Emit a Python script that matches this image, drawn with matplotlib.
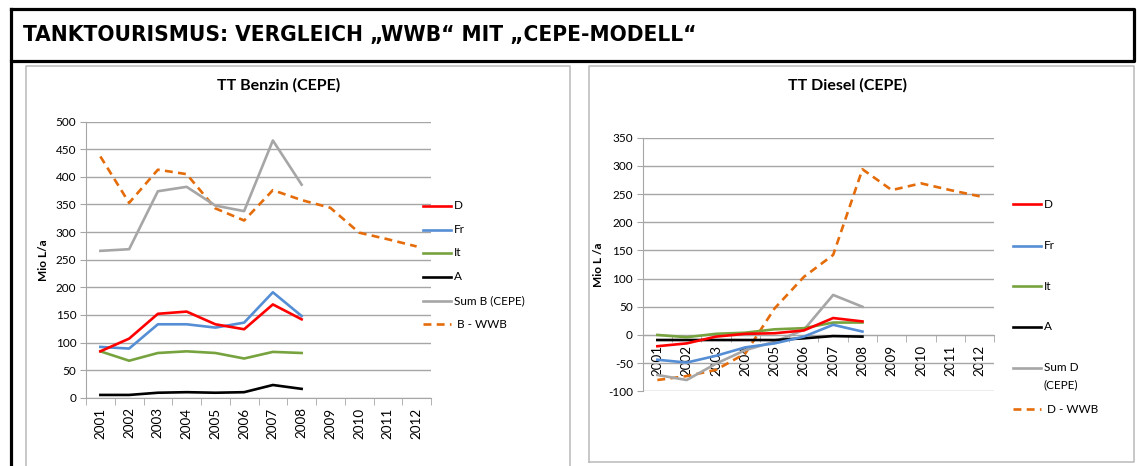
import matplotlib
matplotlib.use("Agg")
import matplotlib.pyplot as plt
from matplotlib.lines import Line2D
import numpy as np

W, H = 1137, 466

years = ["2001", "2002", "2003", "2004", "2005", "2006", "2007", "2008",
         "2009", "2010", "2011", "2012"]

# Benzin (Mio L/a)
benzin_D = [84, 107, 152, 156, 133, 124, 169, 142]
benzin_Fr = [92, 89, 133, 133, 127, 136, 191, 148]
benzin_It = [84, 67, 81, 84, 81, 71, 83, 81]
benzin_A = [5, 5, 9, 10, 9, 10, 23, 16]
benzin_Sum = [266, 269, 374, 382, 348, 338, 466, 386]
benzin_WWB = [437, 353, 413, 405, 343, 321, 376, 358, 344, 299, 287, 274]

# Diesel (Mio L/a)
diesel_D = [-20, -15, -3, 2, 3, 8, 30, 24]
diesel_Fr = [-44, -49, -37, -22, -15, -3, 18, 6]
diesel_It = [0, -4, 2, 4, 10, 12, 22, 22]
diesel_A = [-9, -9, -9, -9, -9, -6, -2, -3]
diesel_Sum = [-71, -80, -51, -27, -12, 9, 71, 50]
diesel_WWB = [-80, -73, -62, -33, 47, 103, 142, 294, 257, 269, 257, 246]

benzin_labels = ["D", "Fr", "It", "A", "Sum B (CEPE)", " B - WWB"]
diesel_labels = ["D", "Fr", "It", "A", "Sum D\n(CEPE)", " D - WWB"]

colors = ["#ff0000", "#558ed5", "#77a33f", "#000000", "#a6a6a6", "#e46c0a"]
FONT = "Lato"
plt.rcParams['font.family'] = [FONT, 'DejaVu Sans']

fig = plt.figure(figsize=(W / 100, H / 100), dpi=100)


def fx(x):
    return x / W


def fy(y):
    return 1 - y / H


def fline(xs, ys, color, lw):
    fig.add_artist(Line2D([fx(v) for v in xs], [fy(v) for v in ys],
                          color=color, lw=lw, transform=fig.transFigure,
                          solid_capstyle='projecting'))


# frames
fline([11, 1134, 1134, 11, 11], [9, 9, 61, 61, 9], "black", 2.3)
fline([11, 11], [61, 470], "black", 2.3)
fline([26, 26, 570, 570], [470, 66, 66, 470], "#bfbfbf", 1.2)
fline([589, 589, 1134, 1134, 589], [462, 66, 66, 462, 462], "#bfbfbf", 1.2)

fig.text(fx(23), fy(35), "TANKTOURISMUS: VERGLEICH \u201eWWB\u201c MIT \u201eCEPE-MODELL\u201c",
         ha="left", va="center", fontsize=16.2, fontweight="bold",
         family=["DejaVu Sans"], fontstretch="condensed")


def make_chart(axbox, ylim, yticks, series, labels, title, title_xy, ylabel,
               ylabel_xy, legend_x, legend_ys, zero_axis):
    l, t, r, b = axbox
    ax = fig.add_axes([fx(l), fy(b), fx(r) - fx(l), fy(t) - fy(b)])
    x = np.arange(len(years))
    ax.set_xlim(-0.5, len(years) - 0.5)
    ax.set_ylim(*ylim)
    ax.set_yticks(yticks)
    ax.set_yticklabels([str(v) for v in yticks], fontsize=8.5)
    ax.yaxis.grid(True, color="#a6a6a6", lw=1.0)
    ax.set_axisbelow(True)
    for s in ["top", "right"]:
        ax.spines[s].set_visible(False)
    ax.spines["left"].set_color("#a6a6a6")
    ax.spines["bottom"].set_color("#a6a6a6")
    if zero_axis:
        ax.spines["bottom"].set_position(("data", 0))
    ax.set_xticks(x)
    ax.set_xticklabels(years, rotation=90, fontsize=9.7)
    ax.set_xticks(np.arange(-0.5, len(years)), minor=True)
    ax.tick_params(axis="x", which="major", length=0, pad=7)
    ax.tick_params(axis="x", which="minor", length=5, color="#a6a6a6")
    ax.tick_params(axis="y", length=4, color="#a6a6a6", pad=3)
    for i, (vals, lab) in enumerate(zip(series, labels)):
        ls = "--" if i == 5 else "-"
        ax.plot(x[:len(vals)], vals, color=colors[i], lw=1.9, ls=ls,
                dashes=(3, 2) if i == 5 else (None, None),
                zorder=3 + (6 - i) * 0.1)
        ly = legend_ys[i]
        lxs = [legend_x, legend_x + 28]
        if i == 5:
            fig.add_artist(Line2D([fx(v) for v in lxs], [fy(ly)] * 2, color=colors[i],
                                  lw=1.9, ls="--", dashes=(3, 2), transform=fig.transFigure))
        else:
            fig.add_artist(Line2D([fx(v) for v in lxs], [fy(ly)] * 2, color=colors[i],
                                  lw=1.9, transform=fig.transFigure))
        for k, ln in enumerate(lab.split("\n")):
            fig.text(fx(legend_x + 31), fy(ly + k * 17), ln, ha="left",
                     va="center", fontsize=8.5)
    fig.text(fx(title_xy[0]), fy(title_xy[1]), title, ha="center", va="center",
             fontsize=11.5, fontweight="bold")
    fig.text(fx(ylabel_xy[0]), fy(ylabel_xy[1]), ylabel, ha="center", va="center",
             fontsize=8.5, fontweight="bold", rotation=90)
    return ax


make_chart((86, 121.7, 431, 397.7), (0, 500), list(range(0, 501, 50)),
           [benzin_D, benzin_Fr, benzin_It, benzin_A, benzin_Sum, benzin_WWB],
           benzin_labels, "TT Benzin (CEPE)", (278.7, 85), "Mio L/a", (43.3, 260),
           423, [205.7, 229.7, 253, 277, 300.5, 324], False)

make_chart((642.7, 137.7, 994.3, 391.3), (-100, 350), list(range(-100, 351, 50)),
           [diesel_D, diesel_Fr, diesel_It, diesel_A, diesel_Sum, diesel_WWB],
           diesel_labels, "TT Diesel (CEPE)", (847.7, 85), "Mio L /a", (598, 265),
           1012.7, [204.3, 245.7, 286, 327, 367.7, 409.3], True)

fig.savefig("out.png", dpi=100)
